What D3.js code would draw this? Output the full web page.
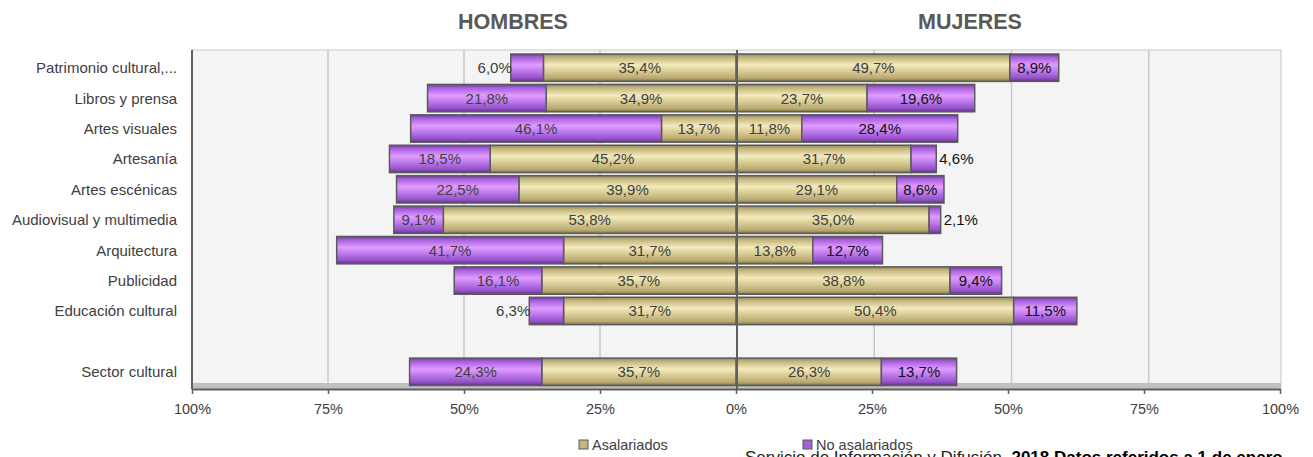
<!DOCTYPE html>
<html>
<head>
<meta charset="utf-8">
<script src="https://cdn.jsdelivr.net/npm/d3@7"></script>
<style>
  body { margin: 0; background: #fff; }
  svg text { font-family: "Liberation Sans", Arial, sans-serif; }
</style>
</head>
<body>
<svg width="1313" height="457"></svg>
<script>
// Chart data (percentages)
var categorias = ['Patrimonio cultural,...', 'Libros y prensa', 'Artes visuales', 'Artesanía',
    'Artes escénicas', 'Audiovisual y multimedia', 'Arquitectura', 'Publicidad',
    'Educación cultural', 'Sector cultural'];
var hombresAsalariados   = [35.4, 34.9, 13.7, 45.2, 39.9, 53.8, 31.7, 35.7, 31.7, 35.7];
var hombresNoAsalariados = [6.0, 21.8, 46.1, 18.5, 22.5, 9.1, 41.7, 16.1, 6.3, 24.3];
var mujeresAsalariados   = [49.7, 23.7, 11.8, 31.7, 29.1, 35.0, 13.8, 38.8, 50.4, 26.3];
var mujeresNoAsalariados = [8.9, 19.6, 28.4, 4.6, 8.6, 2.1, 12.7, 9.4, 11.5, 13.7];
var ticksPct = [-100, -75, -50, -25, 0, 25, 50, 75, 100];
var series = ['Asalariados', 'No asalariados'];

var svg = d3.select('svg');

var plot = {l: 192, r: 1281, t: 50, b: 389};
var center = 737;

// y slots: 9 sectors, one blank row, then the total
var slots = categorias.slice(0, 9).concat([''], categorias.slice(9));
var yScale = d3.scaleBand().domain(slots)
    .range([52.5, 387]).paddingInner(0.1).paddingOuter(0.05);

var xLeft = d3.scaleLinear().domain([0, 100]).range([center - 1, plot.l]);
var xRight = d3.scaleLinear().domain([0, 100]).range([center, 1286]);
var xAxisScale = d3.scaleLinear().domain([-100, 100]).range([plot.l, 1280]);

var fmt = function(v) { return d3.format('.1f')(v).replace('.', ',') + '%'; };

// gradients for the bars
var defs = svg.append('defs');
function addGrad(id, stops) {
    var g = defs.append('linearGradient').attr('id', id)
        .attr('x1', 0).attr('y1', 0).attr('x2', 0).attr('y2', 1);
    stops.forEach(function(s) {
        g.append('stop').attr('offset', s[0]).attr('stop-color', s[1]);
    });
}
addGrad('gAsal', [[0, '#8f8458'], [0.12, '#c2b47c'], [0.4, '#f4ebbd'], [0.6, '#dccf98'], [0.88, '#b8aa70'], [1, '#7e7348']]);
addGrad('gNoAsal', [[0, '#6b3a99'], [0.12, '#a55fdc'], [0.4, '#e29bff'], [0.6, '#c07ef0'], [0.88, '#9450c8'], [1, '#5e3286']]);
var fillFor = {'Asalariados': 'url(#gAsal)', 'No asalariados': 'url(#gNoAsal)'};

// plot area background
svg.append('rect')
    .attr('x', plot.l).attr('y', plot.t)
    .attr('width', plot.r - plot.l).attr('height', plot.b - plot.t)
    .attr('fill', '#f4f4f4').attr('stroke', '#d9d9d9').attr('stroke-width', 1.5);

// floor band
svg.append('rect')
    .attr('x', plot.l).attr('y', 383)
    .attr('width', plot.r - plot.l).attr('height', 6)
    .attr('fill', '#c0c0c0');

// gridlines
var gridG = svg.append('g');
[25, 50, 75].forEach(function(v) {
    gridG.append('line').attr('x1', xLeft(v)).attr('x2', xLeft(v))
        .attr('y1', plot.t).attr('y2', 383)
        .attr('stroke', '#cacaca').attr('stroke-width', 1.5);
    gridG.append('line').attr('x1', xRight(v)).attr('x2', xRight(v))
        .attr('y1', plot.t).attr('y2', 383)
        .attr('stroke', '#cacaca').attr('stroke-width', 1.5);
});

// build rows
var rows = categorias.map(function(c, i) {
    return {
        cat: c,
        hA: hombresAsalariados[i], hN: hombresNoAsalariados[i],
        mA: mujeresAsalariados[i], mN: mujeresNoAsalariados[i]
    };
});

var segs = [];
rows.forEach(function(d) {
    segs.push({cat: d.cat, side: 'h', serie: 'Asalariados', v: d.hA, x0: xLeft(d.hA), x1: xLeft(0)});
    segs.push({cat: d.cat, side: 'h', serie: 'No asalariados', v: d.hN, x0: xLeft(d.hA + d.hN), x1: xLeft(d.hA)});
    segs.push({cat: d.cat, side: 'm', serie: 'Asalariados', v: d.mA, x0: xRight(0), x1: xRight(d.mA)});
    segs.push({cat: d.cat, side: 'm', serie: 'No asalariados', v: d.mN, x0: xRight(d.mA), x1: xRight(d.mA + d.mN)});
});

var barsG = svg.append('g');
barsG.selectAll('rect').data(segs).enter().append('rect')
    .attr('x', function(d) { return d.x0; })
    .attr('y', function(d) { return yScale(d.cat); })
    .attr('width', function(d) { return d.x1 - d.x0; })
    .attr('height', yScale.bandwidth())
    .attr('fill', function(d) { return fillFor[d.serie]; })
    .attr('stroke', '#5a5a5a').attr('stroke-width', 1.5);

// center line and left axis line
svg.append('line').attr('x1', center).attr('x2', center)
    .attr('y1', plot.t).attr('y2', plot.b)
    .attr('stroke', '#5f5f5f').attr('stroke-width', 2);
svg.append('line').attr('x1', plot.l).attr('x2', plot.l)
    .attr('y1', plot.t).attr('y2', plot.b)
    .attr('stroke', '#5f5f5f').attr('stroke-width', 2);

// value labels
var labelsG = svg.append('g');
labelsG.selectAll('text').data(segs).enter().append('text')
    .attr('x', function(d) {
        var small = d.v < 7;
        if (small && d.side === 'h') return d.x0 + 1;
        if (small && d.side === 'm') return d.x1 + 3;
        return (d.x0 + d.x1) / 2;
    })
    .attr('y', function(d) { return yScale(d.cat) + yScale.bandwidth() / 2; })
    .attr('dy', '0.36em')
    .attr('text-anchor', function(d) {
        if (d.v < 7) return d.side === 'h' ? 'end' : 'start';
        return 'middle';
    })
    .attr('font-size', 15)
    .attr('fill', function(d) {
        if (d.side === 'm' && d.serie === 'No asalariados') return '#111';
        return '#404040';
    })
    .text(function(d) { return fmt(d.v); });

// category labels
svg.append('g').selectAll('text').data(categorias).enter().append('text')
    .attr('x', 177)
    .attr('y', function(d) { return yScale(d) + yScale.bandwidth() / 2; })
    .attr('dy', '0.36em')
    .attr('text-anchor', 'end')
    .attr('font-size', 15)
    .attr('fill', '#404040')
    .text(function(d) { return d; });

// bottom axis
var xAx = svg.append('g')
    .attr('transform', 'translate(0,' + plot.b + ')')
    .call(d3.axisBottom(xAxisScale).tickValues(ticksPct)
        .tickFormat(function(d) { return Math.abs(d) + '%'; })
        .tickSize(5).tickSizeOuter(0).tickPadding(10));
xAx.select('.domain').attr('stroke', '#5f5f5f').attr('stroke-width', 2);
xAx.selectAll('.tick line').attr('stroke', '#5f5f5f').attr('stroke-width', 1.5);
xAx.selectAll('.tick text')
    .attr('font-family', '"Liberation Sans", Arial, sans-serif')
    .attr('font-size', 14.5).attr('fill', '#404040');

// titles
svg.append('text').attr('x', 513).attr('y', 29).attr('text-anchor', 'middle')
    .attr('font-size', 21.5).attr('font-weight', 'bold').attr('fill', '#595959')
    .text('HOMBRES');
svg.append('text').attr('x', 970).attr('y', 29).attr('text-anchor', 'middle')
    .attr('font-size', 21.5).attr('font-weight', 'bold').attr('fill', '#595959')
    .text('MUJERES');

// legend
var legendX = [579, 803];
var legendG = svg.append('g');
series.forEach(function(s, i) {
    legendG.append('rect').attr('x', legendX[i]).attr('y', 440)
        .attr('width', 9).attr('height', 9)
        .attr('fill', s === 'Asalariados' ? '#c4b67e' : '#a45fd6')
        .attr('stroke', '#5a5a5a').attr('stroke-width', 1);
    legendG.append('text').attr('x', legendX[i] + 13).attr('y', 450)
        .attr('font-size', 14.5).attr('fill', '#404040').text(s);
});

// source note (cut by the bottom edge)
var note = svg.append('text').attr('x', 745).attr('y', 463)
    .attr('font-size', 17).attr('fill', '#222');
note.append('tspan').text('Servicio de Información y Difusión. ');
note.append('tspan').attr('font-weight', 'bold').attr('fill', '#000')
    .text('2018 Datos referidos a 1 de enero');
</script>
</body>
</html>
